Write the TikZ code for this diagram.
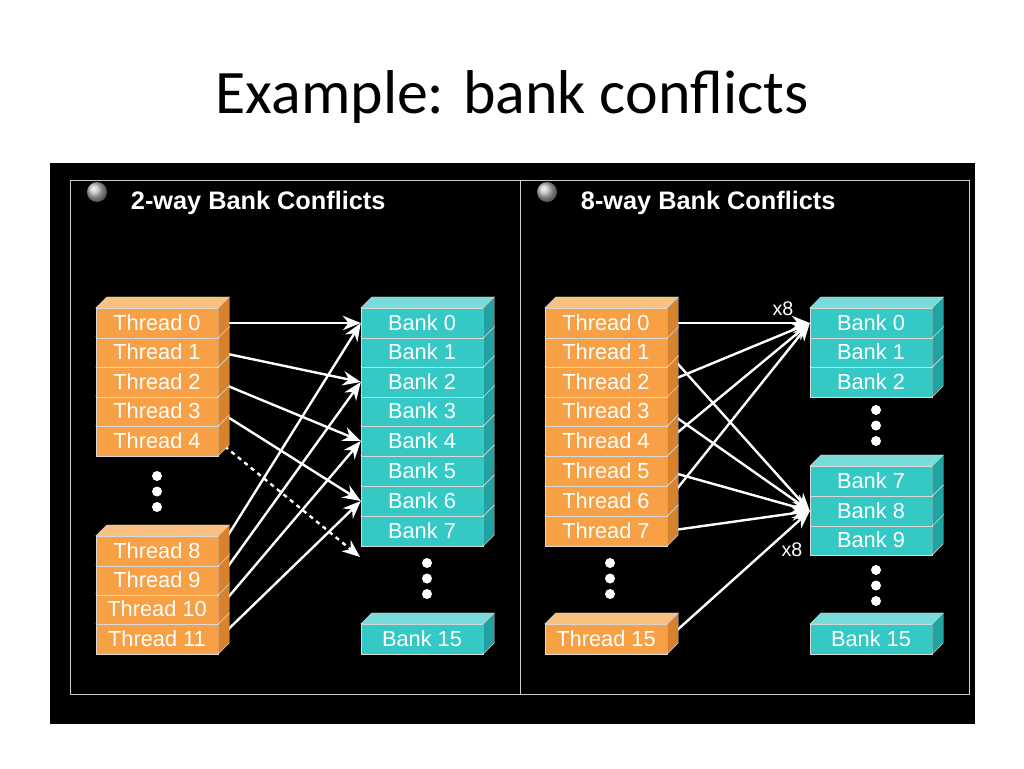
\documentclass[tikz,border=0pt]{standalone}
\usepackage{fontspec}
\setmainfont{Liberation Sans}
\newfontfamily\ttlfont{Carlito}
\usetikzlibrary{arrows.meta,calc,positioning}
\pgfdeclarelayer{bg}
\pgfsetlayers{bg,main}
\definecolor{thrfront}{HTML}{F7A045}
\definecolor{thrtop}{HTML}{FAC080}
\definecolor{thrside}{HTML}{D9822E}
\definecolor{bnkfront}{HTML}{35C9C6}
\definecolor{bnktop}{HTML}{78DCDA}
\definecolor{bnkside}{HTML}{22A3A1}
\tikzset{
  cell/.style={draw=white!85!black, line width=0.3pt, minimum width=30.5mm, minimum height=7.4mm,
    inner sep=0pt, text=white, font=\fontsize{15.5}{18}\selectfont},
  link/.style={draw=white, line width=0.6mm, -{Stealth[length=4.5mm,width=3.6mm]}},
  dots/.style={fill=white},
  panel/.style={draw=white!80!black, line width=0.3pt}
}
% name, x, y, colour prefix, text
\newcommand\blk[5]{%
  \node[cell, fill=#4front] (#1) at (#2,#3) {#5};
  \filldraw[fill=#4top, draw=white!85!black, line width=0.3pt] (#1.north west) -- ++(11,-11) -- ($(#1.north east)+(11,-11)$) -- (#1.north east) -- cycle;
  \filldraw[fill=#4side, draw=white!85!black, line width=0.3pt] (#1.north east) -- ++(11,-11) -- ($(#1.south east)+(11,-11)$) -- (#1.south east) -- cycle;
}
\newcommand\dotcol[2]{\foreach \d in {0,15.5,31}{\fill[dots] (#1,#2+\d) circle (5);}}
\begin{document}
\begin{tikzpicture}[x=0.25mm, y=-0.25mm]
  \useasboundingbox (0,0) rectangle (1024,768);
  \node[font=\ttlfont\fontsize{44}{50}\selectfont] (title) at (512,97) {Example: bank conflicts};
  % left panel: 2-way
  \foreach \i/\y in {11/639,10/609,9/580,8/551,4/441,3/411,2/382,1/352,0/323}{\blk{lt\i}{157}{\y}{thr}{Thread \i}}
  \blk{lb15}{422}{639}{bnk}{Bank 15}
  \foreach \i/\y in {7/531,6/501,5/471,4/441,3/411,2/382,1/352,0/323}{\blk{lb\i}{422}{\y}{bnk}{Bank \i}}
  \dotcol{157}{476}
  \dotcol{427}{563}
  \coordinate (lend) at (360,557);
  % right panel: 8-way
  \blk{rt15}{606}{639}{thr}{Thread 15}
  \foreach \i/\y in {7/531,6/501,5/471,4/441,3/411,2/382,1/352,0/323}{\blk{rt\i}{606}{\y}{thr}{Thread \i}}
  \blk{rb15}{871}{639}{bnk}{Bank 15}
  \foreach \i/\y in {9/540,8/511,7/481,2/382,1/352,0/323}{\blk{rb\i}{871}{\y}{bnk}{Bank \i}}
  \dotcol{610}{563}
  \dotcol{876}{410}
  \dotcol{876}{570}
  \node[text=white, font=\fontsize{14}{16}\selectfont] (x8a) at (783,309) {x8};
  \node[text=white, font=\fontsize{14}{16}\selectfont] (x8b) at (792,550) {x8};
  \begin{pgfonlayer}{bg}
    \fill[black] (50,163) rectangle (975,724);
    \draw[panel] (70,180) rectangle (969,694) (520,180) -- (520,694);
    \shade[ball color=white!75!black] (97,192) circle (10);
    \shade[ball color=white!75!black] (547,192) circle (10);
    \node[anchor=west, text=white, font=\bfseries\fontsize{18}{20}\selectfont] (lhead) at (126,203) {2-way Bank Conflicts};
    \node[anchor=west, text=white, font=\bfseries\fontsize{18}{20}\selectfont] (rhead) at (576,203) {8-way Bank Conflicts};
    \foreach \t/\b in {0/0,1/2,2/4,3/6,8/0,9/2,10/4,11/6}{\draw[link] (lt\t.east) -- (lb\b.west);}
    \draw[link, dashed] (lt4.east) -- (lend);
    \foreach \t in {0,2,4,6}{\draw[link] (rt\t.east) -- (rb0.west);}
    \foreach \t in {1,3,5,7,15}{\draw[link] (rt\t.east) -- (rb8.west);}
  \end{pgfonlayer}
\end{tikzpicture}
\end{document}
